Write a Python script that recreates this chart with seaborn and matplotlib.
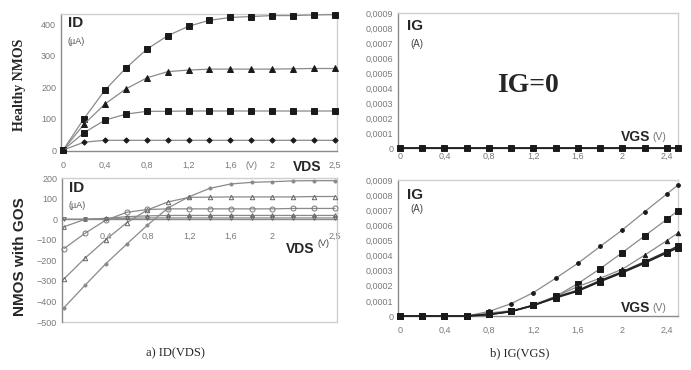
import matplotlib
matplotlib.use("Agg")
import matplotlib.pyplot as plt
import numpy as np
import seaborn as sns

# x axis values
vds_labels = ["0", "0,2", "0,4", "0,6", "0,8", "1", "1,2", "1,4", "1,6",
              "1,8", "2", "2,2", "2,4", "2,5"]
vgs = [0, 0.2, 0.4, 0.6, 0.8, 1.0, 1.2, 1.4, 1.6, 1.8, 2.0, 2.2, 2.4, 2.5]

# ID(VDS) healthy NMOS (uA)
id_h1 = [0, 100, 190, 260, 320, 363, 393, 412, 421, 424, 427, 427, 429, 430]
id_h2 = [0, 82, 146, 194, 229, 249, 254, 257, 257, 257, 257, 258, 259, 259]
id_h3 = [0, 55, 95, 114, 123, 123, 124, 124, 124, 124, 124, 124, 124, 124]
id_h4 = [0, 25, 31, 31, 31, 31, 31, 31, 31, 31, 31, 31, 31, 31]

# ID(VDS) NMOS with GOS (uA)
id_g1 = [-430, -322, -217, -122, -29, 55, 109, 150, 171, 179, 182, 186, 187, 187]
id_g2 = [-290, -190, -100, -18, 45, 84, 106, 107, 108, 108, 108, 108, 110, 110]
id_g3 = [-143, -69, -5, 33, 47, 50, 50, 50, 50, 50, 50, 52, 52, 52]
id_g4 = [-37, -1, 4, 12, 16, 18, 18, 18, 18, 18, 18, 18, 18, 18]
id_g5 = [0, 0, 2, 4, 6, 6, 6, 6, 6, 6, 6, 6, 6, 6]

# IG(VGS) healthy (A)
ig_h = [0, 0, 0, 0, 0, 0, 0, 0, 0, 0, 0, 0, 0, 0]

# IG(VGS) with GOS (A)
ig_g1 = [0, 0, 0, 0, 0.00003, 0.000082, 0.000155, 0.00025, 0.000349, 0.00046,
         0.00057, 0.00069, 0.000808, 0.000867]
ig_g2 = [0, 0, 0, 0, 0.00002, 0.000035, 0.00007, 0.00013, 0.000215, 0.000313,
         0.00042, 0.00053, 0.00064, 0.000697]
ig_g3 = [0, 0, 0, 0, 0.00001, 0.00003, 0.000075, 0.00013, 0.000195, 0.00025,
         0.00031, 0.000403, 0.000499, 0.00055]
ig_g4 = [0, 0, 0, 0, 0.00001, 0.00003, 0.00007, 0.000125, 0.00017, 0.000234,
         0.000293, 0.000358, 0.000426, 0.000463]
ig_g5 = [0, 0, 0, 0, 0.00001, 0.00003, 0.00007, 0.00012, 0.000165, 0.000228,
         0.000287, 0.00035, 0.000418, 0.000452]

sns.set_theme(style="white")
plt.rcParams['font.family'] = ['Liberation Sans', 'DejaVu Sans']

W, H = 691, 370
GRAY = "#8a8a8a"
LIGHT = "#cfcfcf"
TICK = "#7a7a7a"


def box(l, t, r, b):
    return [l / W, 1 - b / H, (r - l) / W, (b - t) / H]


def style_axes(ax):
    for s in ax.spines.values():
        s.set_color(LIGHT)
        s.set_linewidth(1.0)
    ax.spines['left'].set_color(GRAY)
    ax.spines['bottom'].set_color(GRAY)
    ax.tick_params(colors=TICK, labelsize=6.5, length=2, width=0.6,
                   direction='out', pad=1.5)
    ax.set_xlabel("")
    ax.set_ylabel("")


def series(ax, x, y, marker, ms, mfc="k", mec="k", lc=GRAY, lw=0.9):
    sns.lineplot(x=x, y=y, ax=ax, color=lc, lw=lw, marker=marker, ms=ms,
                 mfc=mfc, mec=mec, mew=0.7, errorbar=None, clip_on=False,
                 zorder=3)


fig = plt.figure(figsize=(W / 100, H / 100), dpi=100)
ax_tl = fig.add_axes(box(61, 14, 337, 151))
ax_bl = fig.add_axes(box(62, 178, 337, 322))
ax_tr = fig.add_axes(box(398, 13, 678, 148))
ax_br = fig.add_axes(box(398, 180, 678, 316))

pos = np.arange(len(vds_labels))

# a) healthy ID(VDS)
series(ax_tl, pos, id_h1, "s", 4.3)
series(ax_tl, pos, id_h2, "^", 3.8)
series(ax_tl, pos, id_h3, "s", 4.3)
series(ax_tl, pos, id_h4, "D", 2.7)
ax_tl.set_xlim(-0.1, 13.1)
ax_tl.set_ylim(-3, 432)
ax_tl.set_yticks([0, 100, 200, 300, 400])
ax_tl.set_xticks([0, 2, 4, 6, 8, 9, 10, 13])
ax_tl.set_xticklabels(["0", "0,4", "0,8", "1,2", "1,6", "(V)", "2", "2,5"])
style_axes(ax_tl)
ax_tl.tick_params(axis='x', pad=5)
ax_tl.text(0.025, 0.935, "ID", transform=ax_tl.transAxes, fontsize=11,
           fontweight='bold', va='center')
ax_tl.text(0.025, 0.8, "(µA)", transform=ax_tl.transAxes, fontsize=6.5,
           color="#555555", va='center')
fig.text(307 / W, 1 - 167 / H, "VDS", fontsize=10, fontweight='bold',
         ha='center', va='center')

# a) GOS ID(VDS)
series(ax_bl, pos, id_g1, "o", 2.2, mfc=GRAY, mec=GRAY)
series(ax_bl, pos, id_g2, "^", 3.2, mfc="none", mec="#666666")
series(ax_bl, pos, id_g3, "o", 3.6, mfc="none", mec="#777777")
series(ax_bl, pos, id_g4, "^", 2.7, mfc="none", mec="#666666")
series(ax_bl, pos, id_g5, "v", 2.7, mfc="none", mec="#666666")
ax_bl.set_xlim(-0.1, 13.1)
ax_bl.set_ylim(-500, 200)
ax_bl.set_yticks([-500, -400, -300, -200, -100, 0, 100, 200])
ax_bl.set_xticks([2, 4, 6, 8, 10, 13])
ax_bl.set_xticklabels(["0,4", "0,8", "1,2", "1,6", "2", "2,5"])
style_axes(ax_bl)
ax_bl.spines['bottom'].set_position(('data', 0))
ax_bl.tick_params(axis='x', length=0, pad=9)
ax_bl.axhline(-500, color=LIGHT, lw=1.0, clip_on=False)
ax_bl.text(0.025, 0.93, "ID", transform=ax_bl.transAxes, fontsize=11,
           fontweight='bold', va='center')
ax_bl.text(0.025, 0.81, "(µA)", transform=ax_bl.transAxes, fontsize=6.5,
           color="#555555", va='center')
ax_bl.text(0.918, 0.51, "VDS", transform=ax_bl.transAxes, fontsize=10,
           fontweight='bold', ha='right', va='center')
ax_bl.text(0.928, 0.545, "(V)", transform=ax_bl.transAxes, fontsize=6.5,
           color="#444444", ha='left', va='center')

# b) healthy IG(VGS)
ig_ticks = [0, 0.0001, 0.0002, 0.0003, 0.0004, 0.0005, 0.0006, 0.0007,
            0.0008, 0.0009]
ig_ticklabels = ["0"] + ["0,000%d" % i for i in range(1, 10)]
vgs_ticks = [0, 0.4, 0.8, 1.2, 1.6, 2.0, 2.4]
vgs_ticklabels = ["0", "0,4", "0,8", "1,2", "1,6", "2", "2,4"]

series(ax_tr, vgs, ig_h, "s", 3.8, lc="k", lw=1.3)
for ax in (ax_tr, ax_br):
    ax.set_xlim(-0.018, 2.5)
    ax.set_ylim(0, 0.0009)
    ax.set_yticks(ig_ticks)
    ax.set_yticklabels(ig_ticklabels)
    ax.set_xticks(vgs_ticks)
    ax.set_xticklabels(vgs_ticklabels)
    style_axes(ax)

ax_tr.tick_params(axis='x', length=0, pad=3)
ax_tr.text(0.032, 0.905, "IG", transform=ax_tr.transAxes, fontsize=11,
           fontweight='bold', va='center')
ax_tr.text(0.045, 0.77, "(A)", transform=ax_tr.transAxes, fontsize=7,
           color="#444444", va='center')
ax_tr.text(0.464, 0.465, "IG=0", transform=ax_tr.transAxes, fontsize=20,
           fontweight='bold', family='Liberation Serif', ha='center',
           va='center')
ax_tr.text(0.9, 0.085, "VGS", transform=ax_tr.transAxes, fontsize=10,
           fontweight='bold', ha='right', va='center')
ax_tr.text(0.907, 0.085, "(V)", transform=ax_tr.transAxes, fontsize=7.5,
           color="#777777", ha='left', va='center')

# b) GOS IG(VGS)
series(ax_br, vgs, ig_g1, "o", 2.7)
series(ax_br, vgs, ig_g2, "s", 3.7)
series(ax_br, vgs, ig_g3, "^", 3.2)
series(ax_br, vgs, ig_g4, "s", 4.2, lc="#333333", lw=1.2)
series(ax_br, vgs, ig_g5, "s", 4.2, lc="#222222", lw=1.2)
ax_br.tick_params(axis='x', pad=5)
ax_br.text(0.032, 0.89, "IG", transform=ax_br.transAxes, fontsize=11,
           fontweight='bold', va='center')
ax_br.text(0.045, 0.785, "(A)", transform=ax_br.transAxes, fontsize=7,
           color="#444444", va='center')
ax_br.text(0.9, 0.06, "VGS", transform=ax_br.transAxes, fontsize=10,
           fontweight='bold', ha='right', va='center')
ax_br.text(0.907, 0.06, "(V)", transform=ax_br.transAxes, fontsize=7.5,
           color="#777777", ha='left', va='center')

# row labels and captions
fig.text(20 / W, 1 - 85 / H, "Healthy NMOS", rotation=90, fontsize=10,
         fontweight='bold', family='Liberation Serif', ha='center',
         va='center')
fig.text(20 / W, 1 - 257 / H, "NMOS with GOS", rotation=90, fontsize=11,
         fontweight='bold', ha='center', va='center')
fig.text(175 / W, 1 - 353 / H, "a) ID(VDS)", fontsize=9,
         family='Liberation Serif', ha='center', va='center')
fig.text(520 / W, 1 - 353 / H, "b) IG(VGS)", fontsize=9,
         family='Liberation Serif', ha='center', va='center')

fig.savefig("out.png", dpi=100)
